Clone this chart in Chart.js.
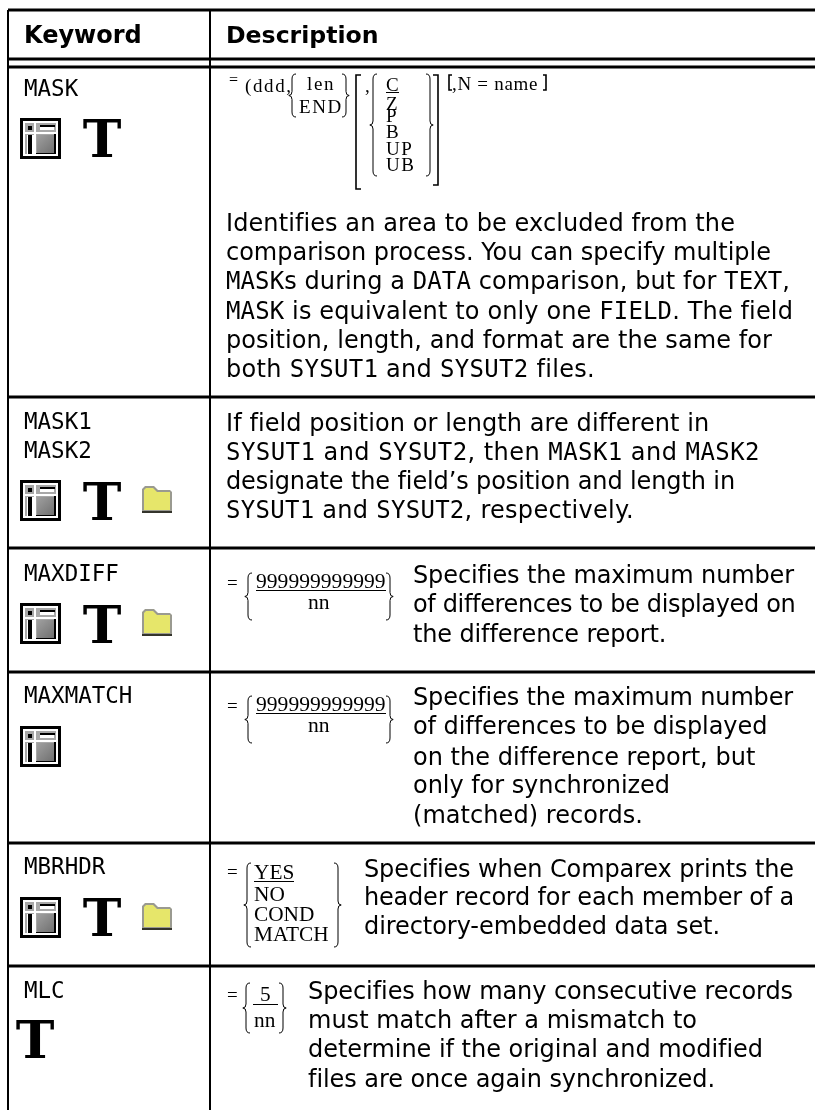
<!DOCTYPE html>
<html>
<head>
<meta charset="utf-8">
<title>Keyword table</title>
<script src="https://cdn.jsdelivr.net/npm/chart.js@4/dist/chart.umd.min.js"></script>
<style>
html, body { margin: 0; padding: 0; background: #ffffff; }
canvas { display: block; }
</style>
</head>
<body>
<canvas id="tableChart" width="815" height="1110"></canvas>
<script>
// Table content. Backticks mark parts set in the mono font.
const headers = ['Keyword', 'Description'];
const keywords = [['MASK'], ['MASK1', 'MASK2'], ['MAXDIFF'], ['MAXMATCH'], ['MBRHDR'], ['MLC']];
const descriptions = [
    ['Identifies an area to be excluded from the', 'comparison process. You can specify multiple', '`MASK`s during a `DATA` comparison, but for `TEXT`,', '`MASK` is equivalent to only one `FIELD`. The field', 'position, length, and format are the same for', 'both `SYSUT1` and `SYSUT2` files.'],
    ['If field position or length are different in', '`SYSUT1` and `SYSUT2`, then `MASK1` and `MASK2`', 'designate the field\u2019s position and length in', '`SYSUT1` and `SYSUT2`, respectively.'],
    ['Specifies the maximum number', 'of differences to be displayed on', 'the difference report.'],
    ['Specifies the maximum number', 'of differences to be displayed', 'on the difference report, but', 'only for synchronized', '(matched) records.'],
    ['Specifies when Comparex prints the', 'header record for each member of a', 'directory-embedded data set.'],
    ['Specifies how many consecutive records', 'must match after a mismatch to', 'determine if the original and modified', 'files are once again synchronized.']
];

// Rules of the table
const rowEdges = [10, 59, 67, 397, 548, 672, 843, 966];
const columnEdges = [8, 210];

// Baselines, left and right edges of the text blocks
const keywordBaselines = [[96], [429, 458], [581], [703], [874], [998]];
const descriptionX = [226, 226, 413, 413, 364, 308];
const descriptionBaselines = [
    [231, 260, 289, 319, 348, 377],
    [431, 460, 489, 518],
    [583, 612, 642],
    [705, 734, 765, 793, 823],
    [877, 905, 934],
    [999, 1028, 1057, 1087]
];
const descriptionRight = [
    [735, 771, 790, 793, 772, 595],
    [709, 760, 735, 634],
    [794, 795, 666],
    [793, 767, 755, 670, 643],
    [794, 794, 720],
    [793, 697, 763, 715]
];

// Icons per row, x / y are the icon centres
const panelIcons = [{x: 40.5, y: 138.5}, {x: 40.5, y: 500.5}, {x: 40.5, y: 623.5}, {x: 40.5, y: 746.5}, {x: 40.5, y: 917.5}];
const folderIcons = [{x: 157, y: 500}, {x: 157, y: 623}, {x: 157, y: 917}];
const typeIcons = [[102, 157], [102, 520], [102, 643], [102, 936], [35, 1058]];

// Syntax formulas: text, x, baseline, size, letter spacing
const formulaTexts = [
    ['=', 229, 85, 16, 0], ['(ddd,', 245, 92, 19, 1.6], ['len', 307, 90, 19, 1.6], ['END', 299, 113, 19, 1.6],
    [',', 365, 92, 19, 0], ['C', 386, 91, 19, 0], ['Z', 386, 110, 19, 0], ['P', 386, 122, 19, 0],
    ['B', 386, 138, 19, 0], ['UP', 386, 155, 19, 1.6], ['UB', 386, 171, 19, 1.6], [',N = name', 452, 90, 19, 0.7],
    ['=', 227, 589, 19, 0], ['999999999999', 256, 588, 21.6, 0], ['nn', 308, 609, 21.6, 0],
    ['=', 227, 712, 19, 0], ['999999999999', 256, 711, 21.6, 0], ['nn', 308, 732, 21.6, 0],
    ['=', 227, 878, 19, 0], ['YES', 254, 879, 21.3, 0], ['NO', 254, 901, 21.3, 0], ['COND', 254, 921, 21.3, 0], ['MATCH', 254, 941, 21.3, 0],
    ['=', 227, 1001, 19, 0], ['5', 260, 1001, 21.3, 0], ['nn', 254, 1027, 21.3, 0]
];
// x0, x1, y
const formulaUnderlines = [[386, 399, 92], [256, 386, 590], [256, 386, 713], [254, 294, 881], [253, 278, 1004]];
// x, top, bottom, side (-1 opens, 1 closes)
const formulaBraces = [
    [292, 74, 117, -1], [346, 74, 117, 1], [373, 74, 176, -1], [430, 74, 176, 1],
    [248, 573, 620, -1], [390, 573, 620, 1], [248, 696, 743, -1], [390, 696, 743, 1],
    [247, 863, 947, -1], [338, 863, 947, 1], [246, 983, 1033, -1], [283, 983, 1033, 1]
];
// x, top, bottom, side, tick length
const formulaBrackets = [[356, 75, 189, -1, 5], [438, 75, 185, 1, 5], [449, 75, 90, -1, 3], [546, 75, 90, 1, 3]];

const bodyFont = '"DejaVu Sans"';
const monoFont = '"DejaVu Sans Mono"';
const serifFont = '"Liberation Serif"';
const slabFont = '"DejaVu Serif"';

function makePanelIcon() {
    const c = document.createElement('canvas');
    c.width = 41;
    c.height = 41;
    const g = c.getContext('2d');
    g.fillStyle = '#000000';
    g.fillRect(0, 0, 41, 41);
    g.fillStyle = '#ffffff';
    g.fillRect(3, 3, 35, 35);
    g.fillStyle = '#a8a8a8';
    g.fillRect(5, 5, 31, 31);
    g.fillStyle = '#ffffff';
    g.fillRect(5, 14, 31, 2);
    g.fillRect(14, 5, 2, 31);
    g.fillRect(20, 9, 14, 3);
    g.fillRect(7, 17, 7, 19);
    g.fillStyle = '#000000';
    g.fillRect(8, 8, 4, 4);
    g.fillRect(8, 17, 4, 19);
    g.fillRect(20, 7, 15, 2);
    g.fillRect(16, 35, 20, 1);
    g.fillRect(34, 16, 2, 20);
    const grad = g.createLinearGradient(17, 17, 34, 35);
    grad.addColorStop(0, '#a0a0a0');
    grad.addColorStop(1, '#707070');
    g.fillStyle = grad;
    g.fillRect(17, 17, 17, 18);
    return c;
}

function makeFolderIcon() {
    const c = document.createElement('canvas');
    c.width = 32;
    c.height = 28;
    const g = c.getContext('2d');
    g.fillStyle = '#9a9a90';
    g.beginPath();
    g.moveTo(1, 27);
    g.lineTo(1, 3);
    g.lineTo(4, 0);
    g.lineTo(13, 0);
    g.lineTo(17, 4);
    g.lineTo(29, 4);
    g.lineTo(31, 6);
    g.lineTo(31, 27);
    g.closePath();
    g.fill();
    g.fillStyle = '#e6e66a';
    g.beginPath();
    g.moveTo(3, 24);
    g.lineTo(3, 4);
    g.lineTo(5, 2);
    g.lineTo(12, 2);
    g.lineTo(16, 6);
    g.lineTo(29, 6);
    g.lineTo(29, 24);
    g.closePath();
    g.fill();
    g.fillStyle = '#34342c';
    g.fillRect(1, 25, 30, 2);
    return c;
}

// Fit the line to its measured right edge with a little letter spacing
function drawRichLine(ctx, line, x, y, size, right) {
    const parts = line.split('`');
    let natural = 0;
    let count = 0;
    parts.forEach((part, i) => {
        ctx.font = `${size}px ${i % 2 ? monoFont : bodyFont}`;
        ctx.letterSpacing = '0px';
        natural += ctx.measureText(part).width;
        count += part.length;
    });
    const spacing = (right - x - natural) / count;
    let cursor = x;
    parts.forEach((part, i) => {
        ctx.font = `${size}px ${i % 2 ? monoFont : bodyFont}`;
        ctx.letterSpacing = `${spacing}px`;
        ctx.fillText(part, cursor, y);
        cursor += ctx.measureText(part).width;
    });
    ctx.letterSpacing = '0px';
}

function drawBrace(ctx, x, top, bottom, side) {
    const mid = (top + bottom) / 2;
    const w = 4 * side;
    ctx.beginPath();
    ctx.moveTo(x - w, top);
    ctx.quadraticCurveTo(x, top, x, top + 5);
    ctx.lineTo(x, mid - 4);
    ctx.quadraticCurveTo(x, mid, x + w * 0.8, mid);
    ctx.quadraticCurveTo(x, mid, x, mid + 4);
    ctx.lineTo(x, bottom - 5);
    ctx.quadraticCurveTo(x, bottom, x - w, bottom);
    ctx.stroke();
}

function drawBracket(ctx, x, top, bottom, side, tick) {
    ctx.beginPath();
    ctx.moveTo(x - tick * side, top);
    ctx.lineTo(x, top);
    ctx.lineTo(x, bottom);
    ctx.lineTo(x - tick * side, bottom);
    ctx.stroke();
}

const tableText = {
    id: 'tableText',
    afterDatasetsDraw(chart) {
        const ctx = chart.ctx;
        const px = v => chart.scales.x.getPixelForValue(v);
        const py = v => chart.scales.y.getPixelForValue(v);
        ctx.save();
        ctx.fillStyle = '#000000';
        ctx.strokeStyle = '#000000';
        ctx.textBaseline = 'alphabetic';
        ctx.textAlign = 'left';

        // Header
        ctx.font = `bold 24px ${bodyFont}`;
        ctx.fillText(headers[0], px(24), py(43));
        ctx.font = `bold 23.6px ${bodyFont}`;
        ctx.fillText(headers[1], px(226), py(43));

        // Keyword column
        ctx.font = `22.5px ${monoFont}`;
        keywords.forEach((names, r) => {
            names.forEach((name, i) => ctx.fillText(name, px(24), py(keywordBaselines[r][i])));
        });

        // Description column
        descriptions.forEach((lines, r) => {
            lines.forEach((line, i) => {
                drawRichLine(ctx, line, px(descriptionX[r]), py(descriptionBaselines[r][i]), 24, px(descriptionRight[r][i]));
            });
        });

        // Big T icons
        ctx.font = `bold 52px ${slabFont}`;
        ctx.textAlign = 'center';
        typeIcons.forEach(t => ctx.fillText('T', px(t[0]), py(t[1])));
        ctx.textAlign = 'left';

        // Formulas
        formulaTexts.forEach(f => {
            ctx.font = `${f[3]}px ${serifFont}`;
            ctx.letterSpacing = `${f[4]}px`;
            ctx.fillText(f[0], px(f[1]), py(f[2]));
        });
        ctx.letterSpacing = '0px';
        ctx.lineWidth = 1;
        formulaUnderlines.forEach(u => {
            ctx.beginPath();
            ctx.moveTo(px(u[0]), py(u[2]) + 0.5);
            ctx.lineTo(px(u[1]), py(u[2]) + 0.5);
            ctx.stroke();
        });
        formulaBraces.forEach(b => drawBrace(ctx, px(b[0]), py(b[1]), py(b[2]), b[3]));
        ctx.lineWidth = 1.6;
        formulaBrackets.forEach(b => drawBracket(ctx, px(b[0]), py(b[1]), py(b[2]), b[3], b[4]));
        ctx.restore();
    }
};

const maxY = 1110;
const maxX = 815;

// One line dataset per rule
function ruleDataset(points, width) {
    return {
        type: 'line',
        data: points,
        borderColor: '#000000',
        borderWidth: width,
        pointRadius: 0,
        fill: false
    };
}

const ruleSets = [];
rowEdges.forEach(y => ruleSets.push(ruleDataset([{x: columnEdges[0], y: y}, {x: maxX, y: y}], 3)));
columnEdges.forEach(x => ruleSets.push(ruleDataset([{x: x, y: rowEdges[0]}, {x: x, y: maxY}], 2)));

new Chart(document.getElementById('tableChart'), {
    type: 'scatter',
    data: {
        datasets: ruleSets.concat([
            {data: panelIcons, pointStyle: makePanelIcon(), pointRadius: 1, showLine: false},
            {data: folderIcons, pointStyle: makeFolderIcon(), pointRadius: 1, showLine: false}
        ])
    },
    options: {
        responsive: false,
        animation: false,
        layout: {padding: 0, autoPadding: false},
        plugins: {legend: {display: false}, tooltip: {enabled: false}},
        scales: {
            x: {type: 'linear', min: 0, max: maxX, display: false},
            y: {type: 'linear', min: 0, max: maxY, reverse: true, display: false}
        }
    },
    plugins: [tableText]
});
</script>
</body>
</html>
